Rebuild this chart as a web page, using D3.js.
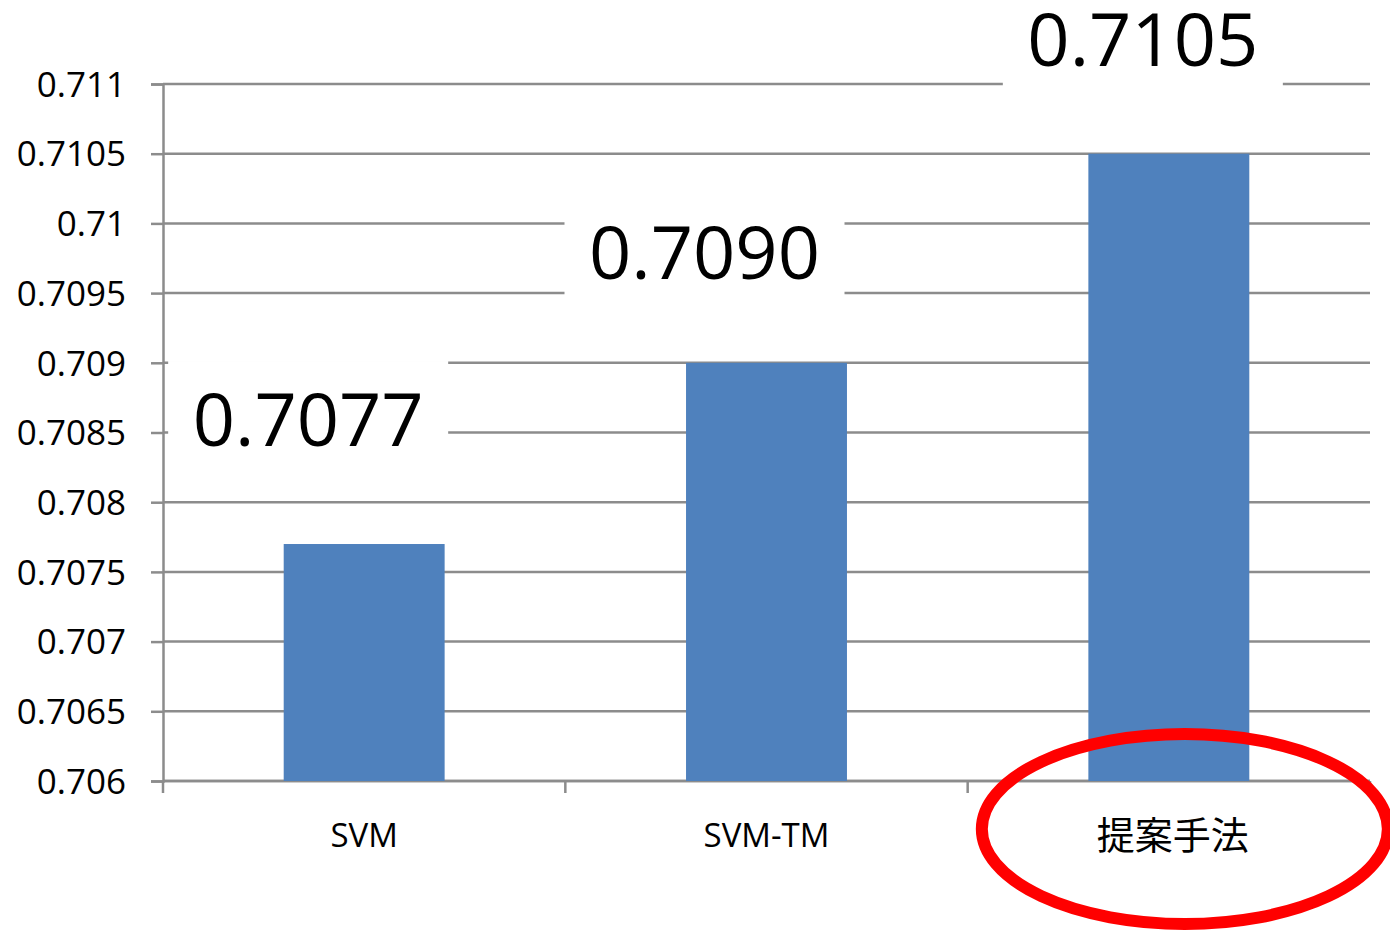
<!DOCTYPE html>
<html>
<head>
<meta charset="utf-8">
<script src="https://cdn.jsdelivr.net/npm/d3@7"></script>
<style>
  html, body { margin: 0; padding: 0; background: #fff; }
  svg { display: block; }
</style>
</head>
<body>
<svg id="chart" width="1390" height="932"></svg>
<script>
// ---- data ----
const categories = ["SVM", "SVM-TM", "提案手法"];
const values = [0.7077, 0.7090, 0.7105];
const valueLabels = ["0.7077", "0.7090", "0.7105"];
const yTicks = [0.706, 0.7065, 0.707, 0.7075, 0.708, 0.7085, 0.709, 0.7095, 0.71, 0.7105, 0.711];
const yTickLabels = ["0.706", "0.7065", "0.707", "0.7075", "0.708", "0.7085", "0.709", "0.7095", "0.71", "0.7105", "0.711"];
const highlighted = "提案手法";

// ---- layout (manual label nudges, as in the original) ----
const labelDx = [-56, -62, -26];
const labelDy = [-98, -84, -88];   // baseline offset above bar top

(function () {
const svg = d3.select("#chart");
const pLeft = 163, pRight = 1370, pTop = 84, pBottom = 781;
const gridColor = "#8c8c8c";
const font = "'Open Sans', 'Noto Sans CJK JP', sans-serif";

const y = d3.scaleLinear().domain([0.706, 0.711]).range([pBottom, pTop]);
const x = d3.scaleBand().domain(categories).range([pLeft, pRight]).paddingInner(0.6).paddingOuter(0.3);

// gridlines
svg.append("g").selectAll("line").data(yTicks).join("line")
  .attr("x1", pLeft).attr("x2", pRight)
  .attr("y1", d => y(d)).attr("y2", d => y(d))
  .attr("stroke", gridColor).attr("stroke-width", 2.5);

// y axis
const yAxis = d3.axisLeft(y).tickValues(yTicks).tickSize(12)
  .tickFormat((d, i) => yTickLabels[i]);
const gy = svg.append("g").attr("transform", `translate(${pLeft},0)`).call(yAxis);
gy.select(".domain").attr("stroke", gridColor).attr("stroke-width", 2.5);
gy.selectAll(".tick line").attr("stroke", gridColor).attr("stroke-width", 2.5);
gy.selectAll(".tick text")
  .attr("x", -37).attr("dy", "0.35em")
  .attr("font-family", font).attr("font-size", 35).attr("fill", "#000");

// x axis (category band edges as ticks)
const gx = svg.append("g");
gx.append("line").attr("x1", pLeft).attr("x2", pRight).attr("y1", pBottom).attr("y2", pBottom)
  .attr("stroke", gridColor).attr("stroke-width", 2.5);
gx.selectAll("line.tk").data(d3.range(categories.length + 1)).join("line")
  .attr("class", "tk")
  .attr("x1", i => pLeft + i * x.step()).attr("x2", i => pLeft + i * x.step())
  .attr("y1", pBottom).attr("y2", pBottom + 12)
  .attr("stroke", gridColor).attr("stroke-width", 2.5);

// bars
svg.append("g").selectAll("rect").data(values).join("rect")
  .attr("x", (d, i) => x(categories[i]))
  .attr("y", d => y(d))
  .attr("width", x.bandwidth())
  .attr("height", d => pBottom - y(d))
  .attr("fill", "#4F81BD");

// category labels
svg.append("g").selectAll("text").data(categories).join("text")
  .attr("x", d => x(d) + x.bandwidth() / 2 + (d === highlighted ? 4 : 0))
  .attr("y", d => d === highlighted ? 849 : 847)
  .attr("text-anchor", "middle")
  .attr("font-family", font)
  .attr("font-size", d => d === highlighted ? 38 : 33)
  .attr("fill", "#000")
  .text(d => d);

// value labels with white boxes
const lg = svg.append("g");
values.forEach((v, i) => {
  const cx = x(categories[i]) + x.bandwidth() / 2 + labelDx[i];
  const by = y(v) + labelDy[i];
  lg.append("rect")
    .attr("x", cx - 140).attr("y", Math.max(0, by - 85))
    .attr("width", 280).attr("height", by + 30 - Math.max(0, by - 85))
    .attr("fill", "#fff");
  lg.append("text")
    .attr("x", cx).attr("y", by)
    .attr("text-anchor", "middle")
    .attr("font-family", font).attr("font-size", 74).attr("fill", "#000")
    .text(valueLabels[i]);
});

// red highlight ellipse
const hx = x(highlighted) + x.bandwidth() / 2 + 16;
svg.append("ellipse")
  .attr("cx", hx).attr("cy", 829)
  .attr("rx", 203).attr("ry", 95)
  .attr("fill", "none").attr("stroke", "#ff0000").attr("stroke-width", 12);
})();
</script>
</body>
</html>
